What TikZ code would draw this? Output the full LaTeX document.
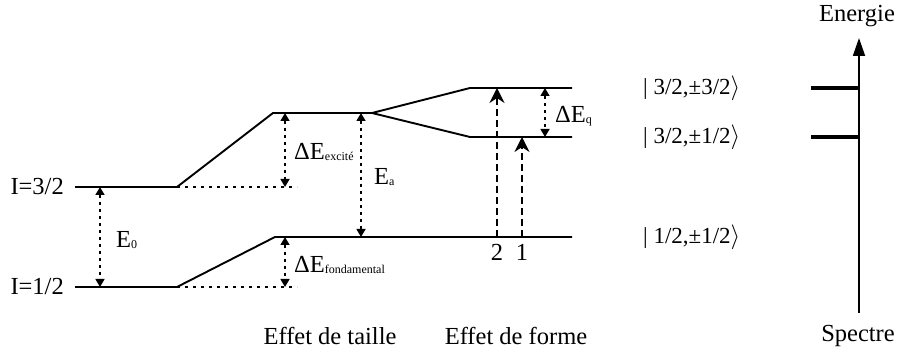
\documentclass[tikz,border=0pt]{standalone}
\usepackage{fontspec}
\setmainfont{Liberation Serif}
\usetikzlibrary{arrows.meta}
\newcommand{\sbs}[1]{\raisebox{-1.5pt}{\fontsize{12}{13}\selectfont #1}}
\begin{document}
\begin{tikzpicture}[x=1pt,y=-1pt,
  level/.style={line width=1.9pt},
  dotline/.style={line width=1.4pt,dash pattern=on 3pt off 5pt},
  dotarrow/.style={line width=1.4pt,dash pattern=on 3pt off 4pt,{Triangle[width=9pt,length=8pt]}-{Triangle[width=9pt,length=8pt]}},
  dasharrow/.style={line width=1.2pt,dash pattern=on 7pt off 4pt,-{Stealth[width=15pt,length=15pt,inset=5pt]}},
  lbl/.style={inner sep=0pt,font=\fontsize{24.5}{28}\selectfont},
  ket/.style={inner sep=0pt,font=\fontsize{23}{27}\selectfont},
  spec/.style={line width=3.2pt}]
\useasboundingbox (0,0) rectangle (898,355);
% levels
\coordinate (a1) at (75,187); \coordinate (a2) at (177,187);
\coordinate (a3) at (273,113); \coordinate (a4) at (372,113);
\coordinate (u1) at (470,88); \coordinate (u2) at (572,88);
\coordinate (l1) at (470,137); \coordinate (l2) at (572,137);
\coordinate (b1) at (75,287); \coordinate (b2) at (177,287);
\coordinate (b3) at (275,237); \coordinate (b4) at (572,237);
\coordinate (d1) at (297,187); \coordinate (d2) at (297,287);
\draw[level] (a1) -- (a2) -- (a3) -- (a4) -- (u1) -- (u2);
\draw[level] (a4) -- (l1) -- (l2);
\draw[level] (b1) -- (b2) -- (b3) -- (b4);
\draw[dotline] (a2) -- (d1);
\draw[dotline] (b2) -- (d2);
% arrows
\coordinate (e0t) at (100,187); \coordinate (e0b) at (100,287);
\draw[dotarrow] (e0t) -- (e0b);
\coordinate (ext) at (285,113); \coordinate (exb) at (285,187);
\draw[dotarrow] (ext) -- (exb);
\coordinate (fot) at (285,237); \coordinate (fob) at (285,287);
\draw[dotarrow] (fot) -- (fob);
\coordinate (eat) at (361,113); \coordinate (eab) at (361,237);
\draw[dotarrow] (eat) -- (eab);
\coordinate (eqt) at (545,88); \coordinate (eqb) at (545,137);
\draw[dotarrow] (eqt) -- (eqb);
\coordinate (t2b) at (497,237); \coordinate (t2t) at (497,88);
\draw[dasharrow] (t2b) -- (t2t);
\coordinate (t1b) at (522,237); \coordinate (t1t) at (522,137);
\draw[dasharrow] (t1b) -- (t1t);
% labels
\node[lbl,anchor=east] (i32) at (64,187) {I=3/2};
\node[lbl,anchor=east] (i12) at (64,287) {I=1/2};
\node[lbl,anchor=west] (E0) at (116,240) {E\sbs{0}};
\node[lbl,anchor=west] (dEx) at (294,152) {ΔE\sbs{excité}};
\node[lbl,anchor=west] (dEf) at (294,265) {ΔE\sbs{fondamental}};
\node[lbl,anchor=west] (Ea) at (374,177) {E\sbs{a}};
\node[lbl,anchor=west] (dEq) at (555,116) {ΔE\sbs{q}};
\node[lbl] (n2) at (497,252) {2};
\node[lbl] (n1) at (522,252) {1};
\node[ket,anchor=west] (k1) at (643,88) {| 3/2,±3/2$\rangle$};
\node[ket,anchor=west] (k2) at (643,137) {| 3/2,±1/2$\rangle$};
\node[ket,anchor=west] (k3) at (643,237) {| 1/2,±1/2$\rangle$};
\node[lbl] (taille) at (330,336) {Effet de taille};
\node[lbl] (forme) at (516,336) {Effet de forme};
% spectrum
\coordinate (sb) at (859,313); \coordinate (st) at (859,38);
\draw[line width=1.8pt,-{Triangle[width=12pt,length=18pt]}] (sb) -- (st);
\node[lbl] (en) at (857,16) {Energie};
\node[lbl] (sp) at (858,336) {Spectre};
\coordinate (s1) at (811,88); \coordinate (s1e) at (859,88);
\coordinate (s2) at (811,137); \coordinate (s2e) at (859,137);
\draw[spec] (s1) -- (s1e);
\draw[spec] (s2) -- (s2e);
\end{tikzpicture}
\end{document}
